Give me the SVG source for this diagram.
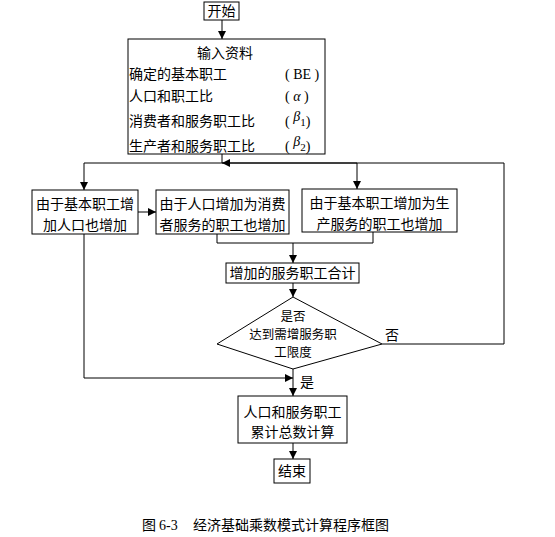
<svg xmlns="http://www.w3.org/2000/svg" width="555" height="537" viewBox="0 0 555 537">
<style>
.b{fill:#fff;stroke:#000;stroke-width:1}
.t{font-family:"Noto Sans CJK SC","Noto Sans CJK JP",sans-serif;font-size:14px;fill:#000}
.d{font-size:12.5px}
.m{text-anchor:middle}
.g{font-family:"Liberation Serif",serif;font-size:14px;fill:#000}
.c path,.c polyline,.c line{fill:none;stroke:#000;stroke-width:1}
</style>
<defs>
<marker id="a" viewBox="0 0 8 8" refX="8" refY="4" markerWidth="8" markerHeight="8" markerUnits="userSpaceOnUse" orient="auto">
<path d="M0,0 L8,4 L0,8 Z" fill="#000"/>
</marker>
</defs>
<rect x="0" y="0" width="555" height="537" fill="#fff"/>
<g class="c" id="connectors">
<line x1="222" y1="20" x2="222" y2="39" marker-end="url(#a)"/>
<line x1="222" y1="154" x2="222" y2="163"/>
<polyline points="222,163 84,163 84,190" marker-end="url(#a)"/>
<polyline points="222,163 357,163 357,189" marker-end="url(#a)"/>
<line x1="138" y1="212" x2="156" y2="212" marker-end="url(#a)"/>
<polyline points="217,234 217,243 373,243 373,232"/>
<line x1="293" y1="243" x2="293" y2="263" marker-end="url(#a)"/>
<line x1="293" y1="283" x2="293" y2="297" marker-end="url(#a)"/>
<polyline points="382,344 504,344 504,163 222,163" marker-end="url(#a)"/>
<polyline points="84,234 84,378 293,378" marker-end="url(#a)"/>
<line x1="293" y1="369" x2="293" y2="396" marker-end="url(#a)"/>
<line x1="293" y1="443" x2="293" y2="459" marker-end="url(#a)"/>
</g>
<g id="start">
<rect class="b" x="204" y="2" width="35" height="18"/>
<text class="t m" x="221.5" y="16">开始</text>
</g>
<g id="input">
<rect class="b" x="128" y="39" width="197" height="115"/>
<text class="t m" x="225" y="58">输入资料</text>
<text class="t" x="129" y="79">确定的基本职工</text>
<text class="g" x="285" y="79">( BE )</text>
<text class="t" x="129" y="101">人口和职工比</text>
<text class="g" x="285" y="101">( <tspan font-style="italic">α</tspan> )</text>
<text class="t" x="129" y="126">消费者和服务职工比</text>
<text class="g" x="285" y="126">( <tspan dy="-5" font-style="italic">β</tspan><tspan dy="5" font-size="11">1</tspan>)</text>
<text class="t" x="129" y="151">生产者和服务职工比</text>
<text class="g" x="285" y="151">( <tspan dy="-5" font-style="italic">β</tspan><tspan dy="5" font-size="11">2</tspan>)</text>
</g>
<g id="box1">
<rect class="b" x="32" y="190" width="106" height="44"/>
<text class="t m" x="85" y="209">由于基本职工增</text>
<text class="t m" x="85" y="230">加人口也增加</text>
</g>
<g id="box2">
<rect class="b" x="156" y="190" width="133" height="44"/>
<text class="t m" x="222.5" y="209">由于人口增加为消费</text>
<text class="t m" x="222.5" y="230">者服务的职工也增加</text>
</g>
<g id="box3">
<rect class="b" x="302" y="189" width="155" height="43"/>
<text class="t m" x="379.5" y="208">由于基本职工增加为生</text>
<text class="t m" x="379.5" y="229">产服务的职工也增加</text>
</g>
<g id="sum">
<rect class="b" x="226" y="263" width="133" height="20"/>
<text class="t m" x="292.5" y="278">增加的服务职工合计</text>
</g>
<g id="decision">
<polygon class="b" points="293,297 382,344 293,369 217,344"/>
<text class="t d m" x="293" y="321">是否</text>
<text class="t d m" x="293" y="339">达到需增服务职</text>
<text class="t d m" x="293" y="357">工限度</text>
</g>
<text class="t" x="385" y="340">否</text>
<text class="t" x="300" y="387">是</text>
<g id="total">
<rect class="b" x="238" y="396" width="109" height="47"/>
<text class="t m" x="292.5" y="417">人口和服务职工</text>
<text class="t m" x="292.5" y="437">累计总数计算</text>
</g>
<g id="end">
<rect class="b" x="274" y="459" width="36" height="24"/>
<text class="t m" x="292" y="476">结束</text>
</g>
<text class="t" x="142" y="530">图</text>
<text class="g" x="159" y="530">6-3</text>
<text class="t" x="193" y="530">经济基础乘数模式计算程序框图</text>
</svg>
